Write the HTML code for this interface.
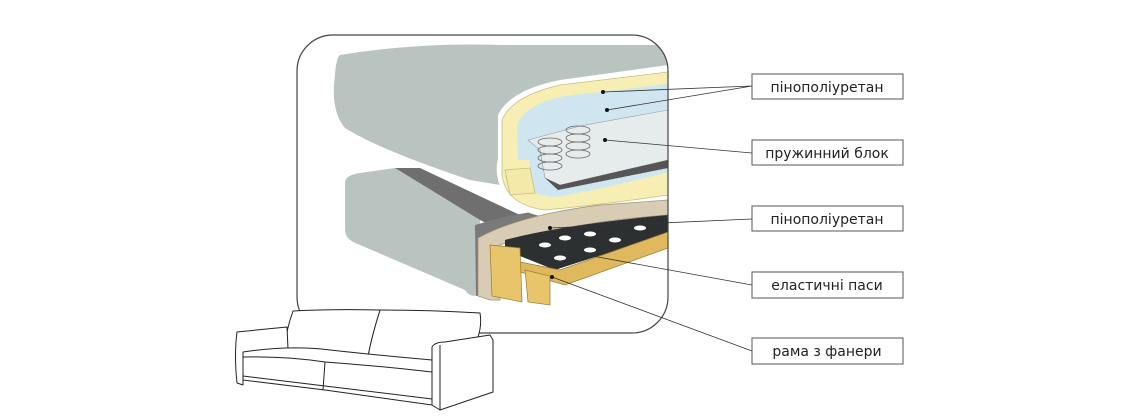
<!DOCTYPE html>
<html><head><meta charset="utf-8"><style>
html,body{margin:0;padding:0;background:#fff;width:1146px;height:420px;overflow:hidden}
</style></head><body>
<svg width="1146" height="420" viewBox="0 0 1146 420" xmlns="http://www.w3.org/2000/svg">
<defs><clipPath id="c"><rect x="297" y="35" width="371" height="298" rx="36"/></clipPath></defs>
<g clip-path="url(#c)">
 <path d="M345 183 Q345 175 360 173 L395 168 L480 220 L478 295 Q470 298 465 290 L360 245 Q345 240 345 230 Z" fill="#b9c4c0"/>
 <path d="M395 168 L420 168 L520 215 L490 225 L480 220 Z" fill="#6f6f70"/>
 <path d="M475 225 L500 218 Q560 205 668 195 L668 215 Q570 220 520 228 L490 240 L485 295 L476 296 Z" fill="#7a7a7a"/>
 <path d="M340 55 Q420 42 500 45 L668 45 L668 110 Q560 118 510 140 Q490 160 500 185 L470 180 Q380 150 345 128 Q330 110 335 75 Q336 58 340 55 Z" fill="#b9c4c0"/>
 <path d="M498 115 Q510 90 560 80 L668 65 L668 200 Q600 212 545 217 Q505 210 498 180 Z" fill="#fff"/>
 <path d="M502 120 Q512 96 560 85 L668 72 L668 195 Q600 205 545 210 Q506 205 502 175 Z" fill="#f6eeb2" stroke="#c8bd80" stroke-width="0.8"/>
 <path d="M517 125 Q525 104 565 96 L668 84 L668 172 Q600 190 555 197 Q530 196 530 182 L530 160 L518 160 Z" fill="#cfe6f0"/>
 <path d="M528 140 L580 126 L668 110 L668 160 L560 185 L545 178 L540 150 Z" fill="#e6eceb" stroke="#999" stroke-width="0.6"/>
 <path d="M545 178 L560 185 L668 160 L668 168 L558 190 Z" fill="#555"/>
 <g fill="none" stroke="#666" stroke-width="0.8">
  <ellipse cx="550" cy="142" rx="12" ry="4"/><ellipse cx="550" cy="150" rx="12" ry="4"/><ellipse cx="550" cy="158" rx="12" ry="4"/><ellipse cx="550" cy="166" rx="12" ry="4"/>
  <ellipse cx="578" cy="130" rx="12" ry="4"/><ellipse cx="578" cy="138" rx="12" ry="4"/><ellipse cx="578" cy="146" rx="12" ry="4"/><ellipse cx="578" cy="154" rx="12" ry="4"/>
 </g>
 <path d="M505 170 L530 168 L535 193 L510 195 Z" fill="#f3e9a8" stroke="#c8bd80" stroke-width="0.8"/>
 <path d="M478 238 Q520 215 600 205 L668 200 L668 215 Q570 222 500 245 L500 300 L490 300 L478 296 Z" fill="#d8ccb4" stroke="#a09070" stroke-width="0.7"/>
 <path d="M505 240 Q560 225 668 215 L668 235 Q600 255 555 270 L505 250 Z" fill="#2c3030"/>
 <g fill="#fff"><ellipse cx="545" cy="245" rx="6" ry="2.5"/><ellipse cx="565" cy="238" rx="6" ry="2.5"/><ellipse cx="590" cy="234" rx="6" ry="2.5"/><ellipse cx="615" cy="240" rx="6" ry="2.5"/><ellipse cx="640" cy="228" rx="6" ry="2.5"/><ellipse cx="560" cy="258" rx="6" ry="2.5"/><ellipse cx="590" cy="250" rx="6" ry="2.5"/></g>
 <path d="M520 262 L560 270 L668 232 L668 248 L565 285 L520 272 Z" fill="#e0b85e" stroke="#9a7a30" stroke-width="0.7"/>
 <path d="M490 245 L520 248 L522 302 L492 296 Z" fill="#e8c46a" stroke="#9a7a30" stroke-width="0.7"/>
 <path d="M525 270 L550 276 L550 305 L528 302 Z" fill="#e8c46a" stroke="#9a7a30" stroke-width="0.7"/>
</g>
<rect x="297" y="35" width="371" height="298" rx="36" fill="none" stroke="#444" stroke-width="1.2"/>
<g fill="#fff" stroke="#222" stroke-width="1" stroke-linejoin="round">
 <path d="M380 310 Q430 310 480 313 Q482 325 478 337 L432 347 L432 362 Q400 358 368 356 Q372 335 380 310 Z"/>
 <path d="M293 311 Q330 309 380 310 Q372 335 368 356 L285 348 Q286 330 293 311 Z"/>
 <path d="M237 332 L287 327 L288 349 L243 353 L243 385 L237 383 Q234 355 237 332 Z"/>
 <path d="M243 352 Q290 345 330 350 Q385 356 432 360 L432 405 L325 390 L243 380 Z"/>
 <path d="M243 357 Q285 356 325 362 Q380 366 432 372" fill="none"/>
 <path d="M325 362 L323 390" fill="none"/>
 <path d="M243 376 L325 386 L432 399" fill="none"/>
 <path d="M432 347 Q435 342 445 342 L490 335 L493 340 L493 392 L440 410 L432 405 Z"/>
 <path d="M440 345 L440 410" fill="none"/>
</g>
<g stroke="#333" stroke-width="0.8" fill="none">
 <path d="M752 86 L603 92 M752 86 L607 110 M752 153 L605 140 M752 219 L550 228 M752 285 L587 255 M752 351 L552 277"/>
</g>
<g fill="#111"><circle cx="603" cy="92" r="2"/><circle cx="607" cy="110" r="2"/><circle cx="605" cy="140" r="2"/><circle cx="550" cy="228" r="2"/><circle cx="552" cy="277" r="2"/></g>
<g fill="#fff" stroke="#555" stroke-width="1">
 <rect x="752" y="74" width="151" height="25"/><rect x="752" y="140" width="151" height="25"/><rect x="752" y="206" width="151" height="25"/><rect x="752" y="272" width="151" height="26"/><rect x="752" y="338" width="151" height="26"/>
</g>
<g font-family="DejaVu Sans, sans-serif" font-size="14" fill="#222" text-anchor="middle">
 <text x="827" y="92">пінополіуретан</text>
 <text x="827" y="158">пружинний блок</text>
 <text x="827" y="224">пінополіуретан</text>
 <text x="827" y="290">еластичні паси</text>
 <text x="827" y="356">рама з фанери</text>
</g>
</svg>
</body></html>
